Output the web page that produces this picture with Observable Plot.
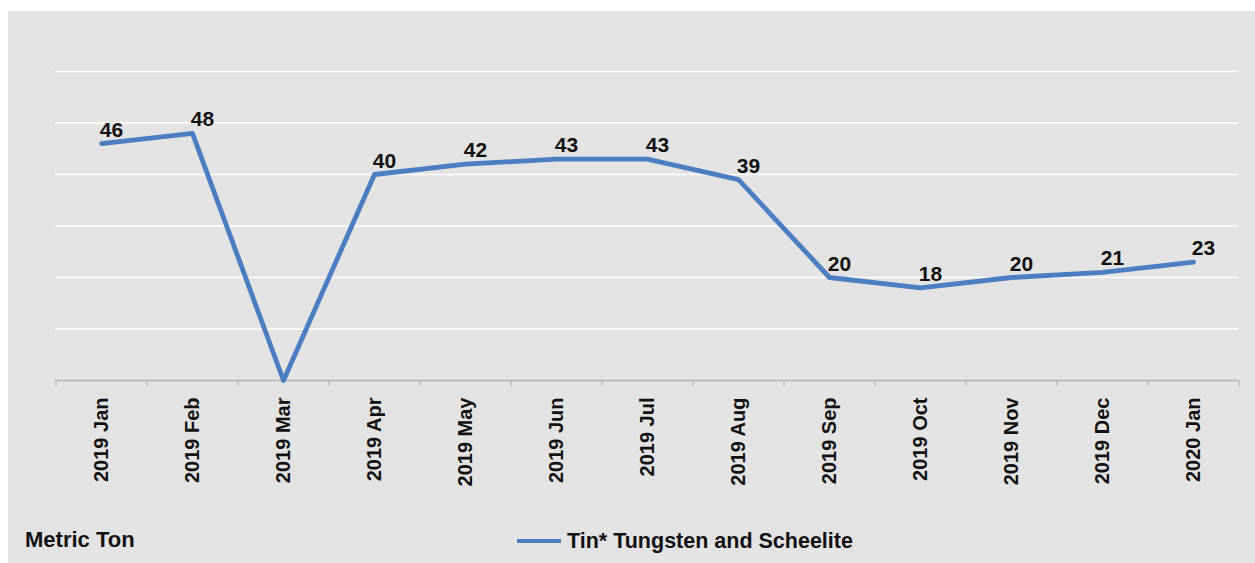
<!DOCTYPE html>
<html>
<head>
<meta charset="utf-8">
<script src="https://cdn.jsdelivr.net/npm/d3@7"></script>
<script src="https://cdn.jsdelivr.net/npm/@observablehq/plot@0.6"></script>
<style>
  html, body { margin: 0; padding: 0; background: #ffffff; }
  body { width: 1255px; height: 563px; position: relative; overflow: hidden; font-family: "Liberation Sans", Arial, sans-serif; }
  #panel { position: absolute; left: 8px; top: 11px; width: 1247px; height: 552px; background: #e3e3e3; }
  #chart { position: absolute; left: 0; top: 0; }
  #unit { position: absolute; left: 17px; top: 518px; font-size: 22px; line-height: 22px; font-weight: bold; color: #111; }
  #legend { position: absolute; left: 509px; top: 519px; display: flex; align-items: center; font-size: 21.5px; line-height: 22px; font-weight: bold; color: #111; }
  #legend svg { margin-right: 6px; }
</style>
</head>
<body>
<div id="panel">
  <div id="chart"></div>
  <div id="unit">Metric Ton</div>
  <div id="legend"><svg width="44" height="8"><line x1="0" y1="4" x2="44" y2="4" stroke="#4a7ec1" stroke-width="4"></line></svg><span>Tin* Tungsten and Scheelite</span></div>
</div>
<script>
const months = ["2019 Jan", "2019 Feb", "2019 Mar", "2019 Apr", "2019 May", "2019 Jun", "2019 Jul", "2019 Aug", "2019 Sep", "2019 Oct", "2019 Nov", "2019 Dec", "2020 Jan"];
const values = [46, 48, 0, 40, 42, 43, 43, 39, 20, 18, 20, 21, 23];
const yGrid = [10, 20, 30, 40, 50, 60];
const seriesName = "Tin* Tungsten and Scheelite";

const data = months.map((m, i) => ({month: m, value: values[i]}));

const W = 1247, H = 490, mL = 47, mR = 17, mT = 60, mB = 121;
const step = (W - mL - mR) / months.length;

const chart = Plot.plot({
  width: W,
  height: H,
  marginLeft: mL,
  marginRight: mR,
  marginTop: mT,
  marginBottom: mB,
  style: {background: "transparent", fontFamily: "'Liberation Sans', Arial, sans-serif", fontSize: "20px", fontWeight: "bold", color: "#111"},
  x: {type: "point", domain: months, padding: 0.5, label: null, tickRotate: -90, tickSize: 0, tickPadding: 17},
  y: {domain: [0, 60], axis: null},
  marks: [
    Plot.ruleY(yGrid, {stroke: "#ffffff", strokeWidth: 1.6}),
    Plot.ruleY([0], {stroke: "#b3b3b3", strokeWidth: 1.6}),
    Plot.ruleX(months, {x: d => d, y1: 0, y2: 0, dx: -step / 2, insetBottom: -6, stroke: "#b3b3b3", strokeWidth: 1.2}),
    Plot.ruleX([months[months.length - 1]], {x: d => d, y1: 0, y2: 0, dx: step / 2, insetBottom: -6, stroke: "#b3b3b3", strokeWidth: 1.2}),
    Plot.line(data, {x: "month", y: "value", stroke: "#4a7ec1", strokeWidth: 4.8, strokeLinejoin: "round"}),
    Plot.text(data.filter(d => d.value > 0), {x: "month", y: "value", text: d => String(d.value), dx: 10, dy: -7, lineAnchor: "bottom", fill: "#111", fontWeight: "bold", fontSize: 21})
  ]
});
document.getElementById("chart").appendChild(chart);
</script>
</body>
</html>
